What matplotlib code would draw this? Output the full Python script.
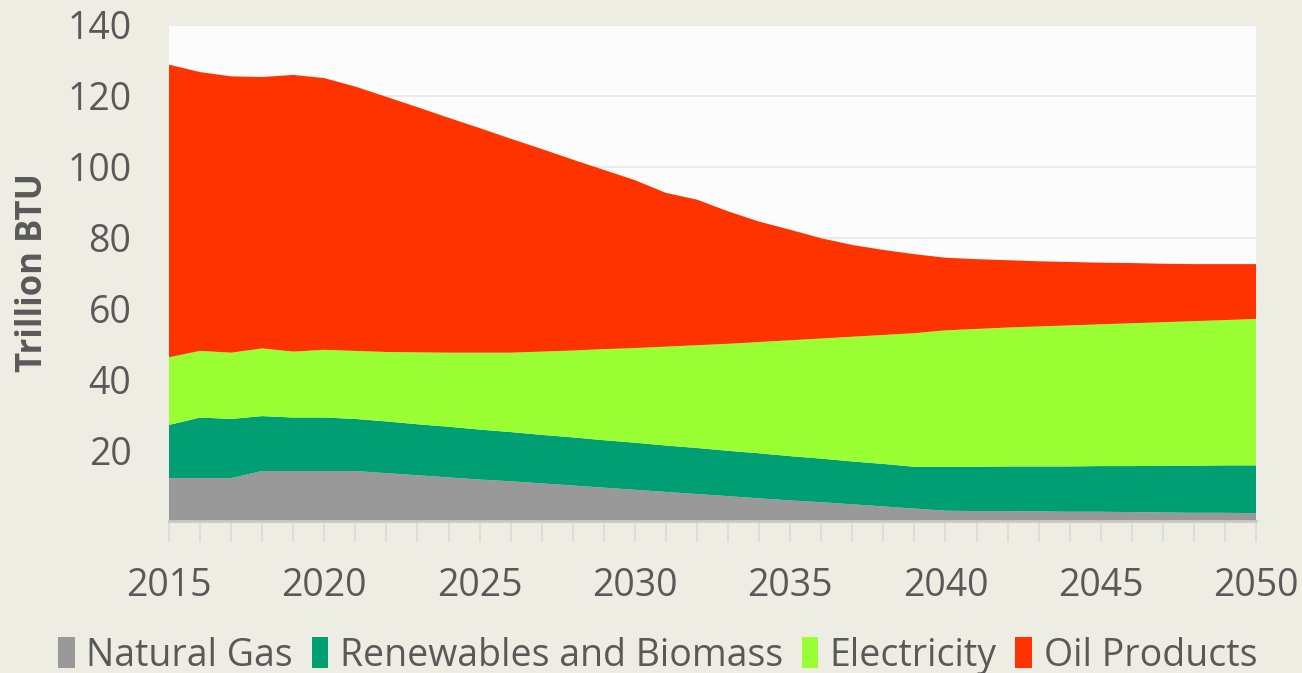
# -*- coding: utf-8 -*-
"""
Consumo de energía por fuente (2015-2050), área apilada.
"""
import numpy as np
import matplotlib
matplotlib.use("Agg")
import matplotlib.pyplot as plt
from matplotlib.ticker import MultipleLocator

years = list(range(2015, 2051))

natural_gas = [12.1, 12.1, 12.1, 14.1, 14.1, 14.1, 14.1, 13.5, 12.9, 12.3,
               11.7, 11.2, 10.6, 10.0, 9.4, 8.8, 8.2, 7.6, 7.0, 6.4,
               5.8, 5.3, 4.7, 4.1, 3.5, 2.9, 2.8, 2.8, 2.7, 2.6,
               2.6, 2.5, 2.4, 2.3, 2.3, 2.2]
renewables = [15.0, 17.1, 16.7, 15.5, 15.1, 15.1, 14.7, 14.6, 14.4, 14.3,
              14.1, 13.9, 13.7, 13.6, 13.4, 13.3, 13.1, 13.0, 12.8, 12.7,
              12.5, 12.3, 12.1, 12.0, 11.8, 12.4, 12.5, 12.6, 12.7, 12.8,
              12.9, 13.0, 13.2, 13.3, 13.4, 13.5]
electricity = [19.1, 18.8, 18.7, 19.1, 18.6, 19.1, 19.2, 19.6, 20.3, 20.9,
               21.7, 22.4, 23.5, 24.5, 25.7, 26.7, 27.9, 29.0, 30.2, 31.4,
               32.7, 33.9, 35.2, 36.4, 37.7, 38.5, 38.9, 39.2, 39.5, 39.8,
               40.0, 40.3, 40.5, 40.8, 41.0, 41.3]
oil_products = [82.6, 78.7, 78.0, 76.6, 78.1, 76.7, 74.6, 72.0, 69.2, 66.3,
                63.4, 60.4, 57.2, 53.9, 50.6, 47.4, 43.4, 41.1, 37.4, 34.0,
                31.2, 28.3, 25.9, 24.0, 22.3, 20.5, 19.7, 19.0, 18.4, 17.9,
                17.4, 17.0, 16.5, 16.1, 15.8, 15.5]

series_names = ["Natural Gas", "Renewables and Biomass", "Electricity", "Oil Products"]
series_colors = ["#999999", "#009E73", "#99FF33", "#FF3300"]

y_ticks = [20, 40, 60, 80, 100, 120, 140]
x_ticks = [2015, 2020, 2025, 2030, 2035, 2040, 2045, 2050]

TEXT = "#595959"
FONDO = "#EEEDE3"


def dibuja_areas(ax):
    """
    Dibuja las áreas apiladas de cada fuente.
    """
    ax.stackplot(years, natural_gas, renewables, electricity, oil_products,
                 colors=series_colors, labels=series_names, linewidth=0,
                 zorder=2)


def main():
    plt.rcParams['font.family'] = ['Open Sans', 'DejaVu Sans']

    fig = plt.figure(figsize=(13.02, 6.73), dpi=100, facecolor=FONDO)
    ax = fig.add_axes([0.1298, 0.2259, 0.8349, 0.7370])
    ax.set_facecolor("#FCFCFC")

    dibuja_areas(ax)

    ax.set_xlim(2015, 2050)
    ax.set_ylim(0, 140)
    ax.set_yticks(y_ticks)
    ax.set_xticks(x_ticks)
    ax.xaxis.set_minor_locator(MultipleLocator(1))
    ax.grid(axis='y', color="#EBEBEB", linewidth=1.5, zorder=0)
    ax.set_axisbelow(True)

    for lado in ['top', 'right', 'left']:
        ax.spines[lado].set_visible(False)
    ax.spines['bottom'].set_color("#C8C8C8")
    ax.spines['bottom'].set_linewidth(2)
    ax.spines['bottom'].set_zorder(3)

    ax.tick_params(axis='y', length=0, labelsize=27, labelcolor=TEXT, pad=27)
    ax.tick_params(axis='x', which='both', length=15, width=1.2, color="#D9D9D9",
                   labelsize=27, labelcolor=TEXT, pad=18)

    ax.set_ylabel("Trillion BTU", fontsize=25, fontweight='bold', color=TEXT,
                  labelpad=12)

    handles, labels = ax.get_legend_handles_labels()
    fig.legend(handles, labels, loc='center', bbox_to_anchor=(0.505, 0.026),
               ncol=4, frameon=False, fontsize=27, labelcolor=TEXT,
               handlelength=0.45, handleheight=0.9, handletextpad=0.3,
               columnspacing=0.5)

    fig.savefig("out.png", dpi=100, facecolor=FONDO)


if __name__ == "__main__":
    main()
